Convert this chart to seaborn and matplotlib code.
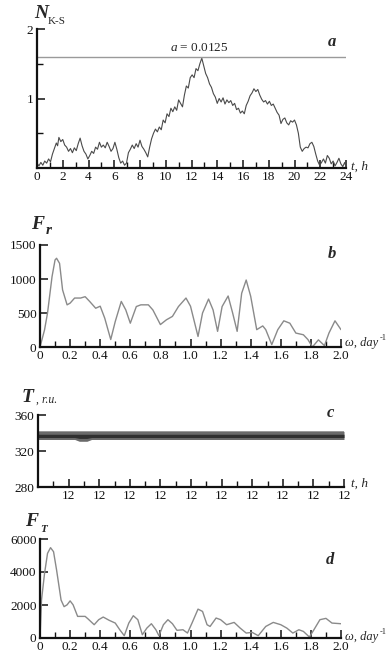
import numpy as np
import pandas as pd
import matplotlib
matplotlib.use("Agg")
import matplotlib.pyplot as plt
import seaborn as sns
from matplotlib.ticker import MultipleLocator, FixedLocator

# ---------------- data ----------------
t_a = [0.0, 0.15, 0.3, 0.45, 0.6, 0.75, 0.9, 1.05, 1.2, 1.35, 1.5, 1.6, 1.7, 1.85, 2.0, 2.15, 2.3, 2.45,
       2.6, 2.75, 2.9, 3.05, 3.2, 3.35, 3.5, 3.65, 3.8, 3.95, 4.1, 4.25, 4.4, 4.55, 4.7, 4.85, 5.0, 5.15,
       5.3, 5.45, 5.6, 5.75, 5.9, 6.05, 6.2, 6.35, 6.5, 6.65, 6.8, 6.95, 7.1, 7.25, 7.4, 7.55, 7.7, 7.85,
       8.0, 8.15, 8.3, 8.45, 8.6, 8.75, 8.9, 9.05, 9.2, 9.35, 9.5, 9.65, 9.8, 9.95, 10.1, 10.25, 10.4,
       10.55, 10.7, 10.85, 11.0, 11.15, 11.3, 11.45, 11.6, 11.75, 11.9, 12.05, 12.2, 12.35, 12.5, 12.65,
       12.8, 12.95, 13.1, 13.25, 13.4, 13.55, 13.7, 13.85, 14.0, 14.15, 14.3, 14.45, 14.6, 14.75, 14.9,
       15.05, 15.2, 15.35, 15.5, 15.65, 15.8, 15.95, 16.1, 16.25, 16.4, 16.55, 16.7, 16.85, 17.0, 17.15,
       17.3, 17.45, 17.6, 17.75, 17.9, 18.05, 18.2, 18.35, 18.5, 18.65, 18.8, 18.95, 19.1, 19.25, 19.4,
       19.55, 19.7, 19.85, 20.0, 20.15, 20.3, 20.45, 20.6, 20.75, 20.9, 21.05, 21.2, 21.35, 21.5, 21.65,
       21.8, 21.95, 22.1, 22.25, 22.4, 22.55, 22.7, 22.85, 23.0, 23.15, 23.3, 23.45, 23.6, 23.75, 23.9, 24.0]
n_ks = [0.07, 0.03, 0.08, 0.04, 0.10, 0.07, 0.13, 0.09, 0.20, 0.28, 0.36, 0.32, 0.44, 0.38, 0.41, 0.33,
        0.30, 0.24, 0.28, 0.22, 0.29, 0.25, 0.35, 0.43, 0.32, 0.24, 0.20, 0.13, 0.18, 0.24, 0.21, 0.30,
        0.27, 0.37, 0.30, 0.33, 0.29, 0.37, 0.31, 0.24, 0.28, 0.37, 0.27, 0.15, 0.07, 0.10, 0.04, 0.07,
        0.22, 0.27, 0.33, 0.28, 0.35, 0.30, 0.40, 0.31, 0.27, 0.22, 0.16, 0.30, 0.42, 0.50, 0.56, 0.52,
        0.59, 0.55, 0.69, 0.65, 0.78, 0.74, 0.86, 0.81, 0.88, 0.83, 0.98, 0.93, 0.88, 1.05, 1.18, 1.15,
        1.30, 1.34, 1.30, 1.43, 1.40, 1.50, 1.58, 1.47, 1.36, 1.30, 1.21, 1.16, 1.07, 1.02, 0.93, 1.00,
        0.95, 1.01, 0.92, 0.98, 0.94, 0.97, 0.90, 0.93, 0.84, 0.86, 0.79, 0.82, 0.78, 0.90, 0.96, 1.04,
        1.08, 1.14, 1.10, 1.13, 1.05, 0.99, 0.95, 0.97, 0.92, 0.96, 0.90, 0.92, 0.86, 0.80, 0.76, 0.64,
        0.70, 0.72, 0.65, 0.62, 0.68, 0.66, 0.69, 0.62, 0.50, 0.30, 0.24, 0.28, 0.30, 0.29, 0.35, 0.37,
        0.31, 0.20, 0.10, 0.04, 0.08, 0.13, 0.07, 0.18, 0.14, 0.06, 0.10, 0.03, 0.08, 0.14, 0.06, 0.02,
        0.08, 0.02]
threshold = 1.6
threshold_label = "0.0125"

w_b = [0.0, 0.03, 0.05, 0.08, 0.1, 0.11, 0.13, 0.15, 0.18, 0.2, 0.23, 0.27, 0.3, 0.33, 0.37, 0.4, 0.43,
       0.47, 0.5, 0.54, 0.57, 0.6, 0.64, 0.67, 0.72, 0.75, 0.8, 0.84, 0.88, 0.92, 0.97, 1.0, 1.05, 1.08,
       1.12, 1.15, 1.18, 1.21, 1.25, 1.28, 1.31, 1.34, 1.37, 1.4, 1.44, 1.48, 1.5, 1.54, 1.58, 1.62, 1.66,
       1.7, 1.75, 1.78, 1.81, 1.85, 1.89, 1.92, 1.96, 2.0]
f_r = [0, 250, 500, 1035, 1280, 1305, 1230, 840, 620, 645, 720, 720, 740, 670, 570, 600, 425, 110, 375,
       670, 545, 350, 595, 620, 620, 545, 330, 400, 450, 595, 720, 600, 155, 500, 705, 545, 230, 595, 750,
       500, 230, 790, 985, 745, 255, 310, 255, 35, 255, 385, 350, 205, 180, 110, 0, 105, 20, 205, 385, 255]

t_c = [0.0, 1.2, 1.35, 1.6, 1.75, 10.0]
T_upper = [341.8, 341.8, 341.8, 341.8, 341.8, 341.8]
T_lower = [332.8, 332.8, 330.8, 330.8, 332.8, 332.8]
T_core_upper = [338.6, 338.6, 338.6, 338.6, 338.6, 338.6]
T_core_lower = [335.0, 335.0, 334.0, 334.0, 335.0, 335.0]
c_tick_labels = ["12"] * 10

w_d = [0.0, 0.01, 0.03, 0.05, 0.07, 0.09, 0.11, 0.14, 0.16, 0.18, 0.2, 0.22, 0.25, 0.3, 0.32, 0.36,
       0.39, 0.42, 0.46, 0.5, 0.53, 0.56, 0.59, 0.62, 0.65, 0.68, 0.71, 0.74, 0.77, 0.79, 0.82, 0.85,
       0.88, 0.91, 0.95, 0.98, 1.01, 1.05, 1.08, 1.11, 1.13, 1.17, 1.2, 1.24, 1.29, 1.33, 1.37, 1.41,
       1.45, 1.5, 1.55, 1.6, 1.64, 1.68, 1.72, 1.75, 1.79, 1.82, 1.86, 1.9, 1.94, 2.0]
f_t = [0, 2300, 3900, 5130, 5475, 5230, 4130, 2300, 1900, 2010, 2250, 2010, 1310, 1310, 1150, 805,
       1110, 1270, 1070, 905, 500, 140, 905, 1350, 1110, 200, 600, 865, 500, 140, 805, 1110, 865, 465,
       500, 300, 905, 1750, 1610, 805, 700, 1210, 1110, 805, 945, 600, 300, 340, 140, 700, 945, 805,
       600, 300, 500, 400, 60, 500, 1110, 1190, 905, 865]

# ---------------- style ----------------
sns.set_style("ticks")
SERIF = ["Liberation Serif", "DejaVu Serif"]
plt.rcParams["font.family"] = SERIF
plt.rcParams["mathtext.fontset"] = "custom"
plt.rcParams["mathtext.rm"] = "Liberation Serif"
plt.rcParams["mathtext.it"] = "Liberation Serif:italic"
plt.rcParams["mathtext.bf"] = "Liberation Serif:bold"
plt.rcParams["axes.linewidth"] = 1.6
plt.rcParams["axes.edgecolor"] = "#111111"

W, H = 388, 656
fig = plt.figure(figsize=(W / 100, H / 100), dpi=100)
fig.patch.set_facecolor("white")


def ax_at(l, t, r, b):
    return fig.add_axes([l / W, 1 - b / H, (r - l) / W, (b - t) / H])


def ptext(x, y, s, **kw):
    kw.setdefault("family", SERIF)
    fig.text(x / W, 1 - y / H, s, **kw)


def style(ax):
    sns.despine(ax=ax)
    ax.set_facecolor("white")
    ax.tick_params(which="both", direction="in", colors="#111111", labelsize=9.5, pad=2.5)
    ax.tick_params(which="major", length=6, width=1.1)
    ax.tick_params(which="minor", length=4.5, width=1.0)
    ax.set_xlabel("")
    ax.set_ylabel("")


# ---------------- panel a ----------------
ax = ax_at(37, 29, 346, 168)
df_a = pd.DataFrame({"t": t_a, "N": n_ks})
sns.lineplot(data=df_a, x="t", y="N", ax=ax, color="#4a4a4a", linewidth=0.8)
ax.axhline(threshold, xmin=0, xmax=1, color="#9a9a9a", linewidth=1.0)
ax.set_xlim(0, 24)
ax.set_ylim(0, 2)
ax.xaxis.set_major_locator(MultipleLocator(2))
ax.xaxis.set_minor_locator(MultipleLocator(1))
ax.yaxis.set_major_locator(FixedLocator([1, 2]))
ax.yaxis.set_minor_locator(FixedLocator([0.5, 1.5]))
style(ax)
ax.set_xticklabels([str(int(v)) for v in ax.get_xticks()], family=SERIF)
ax.set_yticklabels(["1", "2"], family=SERIF)
ax.text(12.6, threshold + 0.04, "$\\mathit{a}$ = " + threshold_label, ha="center", va="bottom",
        fontsize=9.5, family=SERIF)

ptext(34, 13, "N", fontsize=14, fontweight="bold", fontstyle="italic", va="center", ha="left")
ptext(48, 22, "K-S", fontsize=8, va="center", ha="left")
ptext(332, 42, "a", fontsize=12, fontweight="bold", fontstyle="italic", va="center", ha="center")
ptext(351, 167, "t, h", fontsize=9.5, fontstyle="italic", va="center", ha="left")

# ---------------- panel b ----------------
ax = ax_at(40, 245, 341, 347)
df_b = pd.DataFrame({"w": w_b, "F": f_r})
sns.lineplot(data=df_b, x="w", y="F", ax=ax, color="#8a8a8a", linewidth=1.0)
ax.set_xlim(0, 2.0)
ax.set_ylim(0, 1500)
ax.xaxis.set_major_locator(MultipleLocator(0.2))
ax.xaxis.set_minor_locator(MultipleLocator(0.1))
ax.yaxis.set_major_locator(MultipleLocator(500))
style(ax)
xt = ax.get_xticks()
ax.set_xticklabels(["0" if abs(v) < 1e-9 else f"{v:.1f}" for v in xt], family=SERIF)
ax.set_yticklabels([str(int(v)) for v in ax.get_yticks()], family=SERIF)

ptext(31, 224, "F", fontsize=14, fontweight="bold", fontstyle="italic", va="center", ha="left")
ptext(46, 231, "r", fontsize=11, fontweight="bold", fontstyle="italic", va="center", ha="left")
ptext(332, 254, "b", fontsize=12, fontweight="bold", fontstyle="italic", va="center", ha="center")
ptext(345, 343, "ω, day", fontsize=9, fontstyle="italic", va="center", ha="left")
ptext(380, 338, "-1", fontsize=6, va="center", ha="left")

# ---------------- panel c ----------------
ax = ax_at(38, 415, 344, 487)
df_c = pd.DataFrame({"t": t_c, "up": T_upper, "lo": T_lower, "cu": T_core_upper, "cl": T_core_lower})
ax.fill_between(df_c["t"], df_c["lo"], df_c["up"], color="#6a6a6a", linewidth=0)
ax.fill_between(df_c["t"], df_c["cl"], df_c["cu"], color="#303030", linewidth=0)
sns.lineplot(data=df_c, x="t", y="up", ax=ax, color="#8a8a8a", linewidth=0.6)
ax.set_xlim(0, 10)
ax.set_ylim(280, 360)
ax.xaxis.set_major_locator(FixedLocator(list(range(1, 11))))
ax.xaxis.set_minor_locator(FixedLocator([k + 0.5 for k in range(10)]))
ax.yaxis.set_major_locator(FixedLocator([280, 320, 360]))
style(ax)
ax.set_xticklabels(c_tick_labels, family=SERIF)
ax.set_yticklabels(["280", "320", "360"], family=SERIF)

ptext(22, 398, "T", fontsize=14, fontweight="bold", fontstyle="italic", va="center", ha="left")
ptext(36, 400, ", r.u.", fontsize=8.5, fontstyle="italic", va="center", ha="left")
ptext(330, 413, "c", fontsize=12, fontweight="bold", fontstyle="italic", va="center", ha="center")
ptext(351, 484, "t, h", fontsize=9.5, fontstyle="italic", va="center", ha="left")

# ---------------- panel d ----------------
ax = ax_at(40, 539, 341, 638)
df_d = pd.DataFrame({"w": w_d, "F": f_t})
sns.lineplot(data=df_d, x="w", y="F", ax=ax, color="#8a8a8a", linewidth=1.0)
ax.set_xlim(0, 2.0)
ax.set_ylim(0, 6000)
ax.xaxis.set_major_locator(MultipleLocator(0.2))
ax.xaxis.set_minor_locator(MultipleLocator(0.1))
ax.yaxis.set_major_locator(MultipleLocator(2000))
style(ax)
xt = ax.get_xticks()
ax.set_xticklabels(["0" if abs(v) < 1e-9 else f"{v:.1f}" for v in xt], family=SERIF)
ax.set_yticklabels([str(int(v)) for v in ax.get_yticks()], family=SERIF)

ptext(25, 522, "F", fontsize=14, fontweight="bold", fontstyle="italic", va="center", ha="left")
ptext(40, 529, "T", fontsize=8, fontweight="bold", fontstyle="italic", va="center", ha="left")
ptext(330, 560, "d", fontsize=12, fontweight="bold", fontstyle="italic", va="center", ha="center")
ptext(345, 637, "ω, day", fontsize=9, fontstyle="italic", va="center", ha="left")
ptext(380, 632, "-1", fontsize=6, va="center", ha="left")

fig.savefig("out.png", dpi=100, facecolor="white")
